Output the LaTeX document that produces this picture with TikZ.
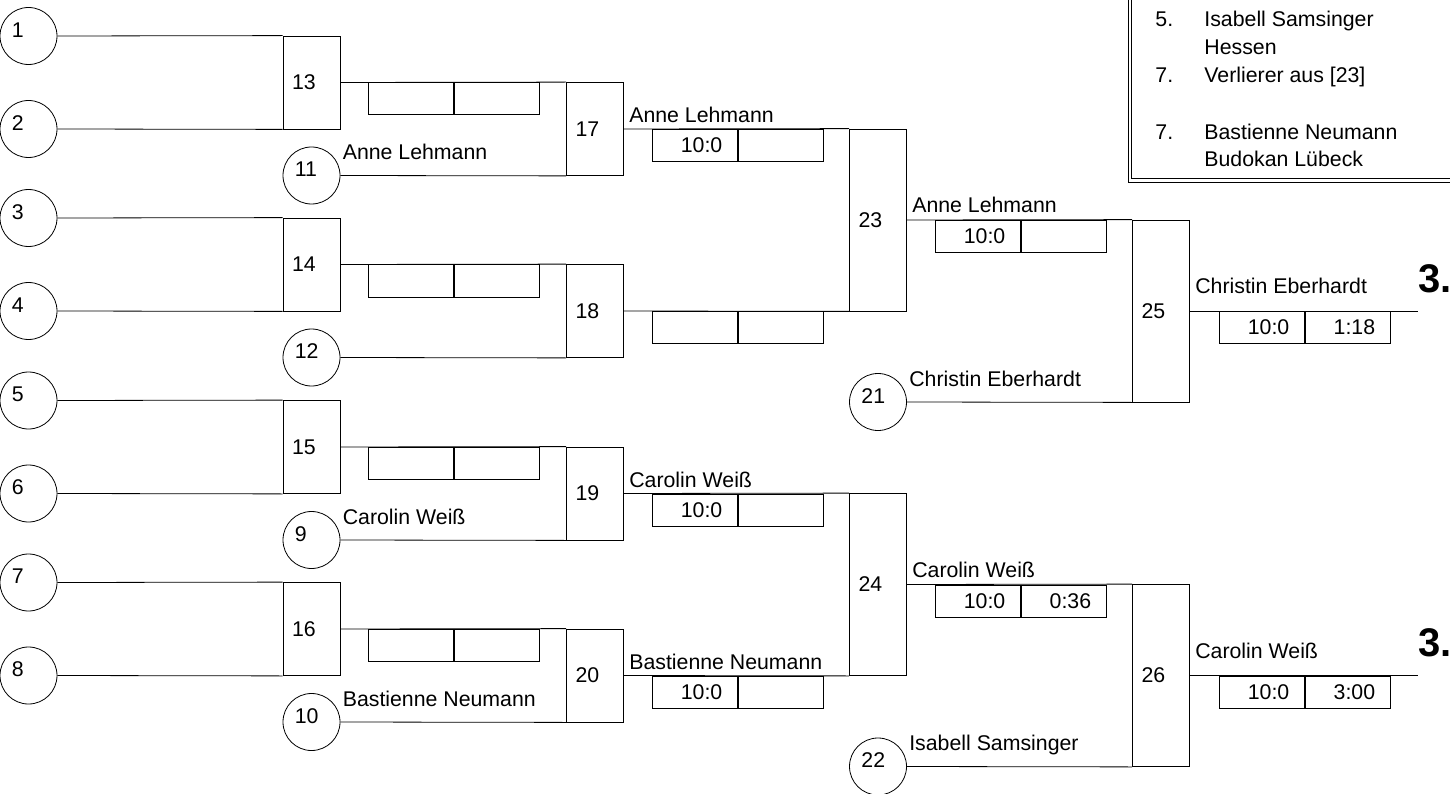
\documentclass[tikz,border=0pt]{standalone}
\usepackage{fontspec}
\setmainfont{Liberation Sans}
\usetikzlibrary{
   calc,
   positioning
}

\begin{document}
\begin{tikzpicture}[
    x=1pt, y=-1pt,
    line width=0.8pt,
    font=\fontsize{21.3}{25}\selectfont,
    seed/.style={circle, draw, minimum size=57pt, inner sep=0pt},
    seedno/.style={anchor=west, inner sep=0pt},
    match/.style={rectangle, draw, minimum width=57pt, minimum height=93pt, text width=39pt, inner xsep=9pt, inner ysep=0pt, align=left},
    tall/.style={match, minimum height=182pt},
    score/.style={rectangle, draw, minimum width=85pt, minimum height=32pt, text width=55pt, inner xsep=0pt, inner ysep=0pt, align=right},
    player/.style={anchor=base west, inner sep=0pt},
    rank/.style={anchor=base west, inner sep=0pt, font=\fontsize{40}{44}\selectfont\bfseries}
]
\useasboundingbox (0,0) rectangle (1450,794);

% first round
\node[match] (m13) at (311.5,82.5) {13};
\node[match] (m14) at (311.5,264.5) {14};
\node[match] (m15) at (311.5,447) {15};
\node[match] (m16) at (311.5,629) {16};

\node[seed] (s1) at (28.5,36) {};
\node[seed] (s2) at (28.5,129) {};
\node[seed] (s3) at (28.5,218) {};
\node[seed] (s4) at (28.5,311) {};
\node[seed] (s5) at (28.5,400.5) {};
\node[seed] (s6) at (28.5,493.5) {};
\node[seed] (s7) at (28.5,582.5) {};
\node[seed] (s8) at (28.5,675.5) {};

\draw (s1.east) -- (m13.north west);
\draw (s2.east) -- (m13.south west);
\draw (s3.east) -- (m14.north west);
\draw (s4.east) -- (m14.south west);
\draw (s5.east) -- (m15.north west);
\draw (s6.east) -- (m15.south west);
\draw (s7.east) -- (m16.north west);
\draw (s8.east) -- (m16.south west);

% second round
\node[match] (m17) at (595,129) {17};
\node[match] (m18) at (595,311) {18};
\node[match] (m19) at (595,493.5) {19};
\node[match] (m20) at (595,675.5) {20};

\node[seed] (s11) at (311.5,175.5) {};
\node[seed] (s12) at (311.5,357.5) {};
\node[seed] (s9) at (311.5,540) {};
\node[seed] (s10) at (311.5,722) {};

\draw (m13.east) -- (m17.north west);
\draw (s11.east) -- (m17.south west);
\draw (m14.east) -- (m18.north west);
\draw (s12.east) -- (m18.south west);
\draw (m15.east) -- (m19.north west);
\draw (s9.east) -- (m19.south west);
\draw (m16.east) -- (m20.north west);
\draw (s10.east) -- (m20.south west);

\node[score, below right=0pt and 28pt of m13.east] (r13a) {};
\node[score, right=0pt of r13a] (r13b) {};
\node[score, below right=0pt and 28pt of m14.east] (r14a) {};
\node[score, right=0pt of r14a] (r14b) {};
\node[score, below right=0pt and 28pt of m15.east] (r15a) {};
\node[score, right=0pt of r15a] (r15b) {};
\node[score, below right=0pt and 28pt of m16.east] (r16a) {};
\node[score, right=0pt of r16a] (r16b) {};

\node[player] (n11) at ($(s11.east)+(2,-16)$) {Anne Lehmann};
\node[player] (n9) at ($(s9.east)+(2,-16)$) {Carolin Weiß};
\node[player] (n10) at ($(s10.east)+(2,-16)$) {Bastienne Neumann};

% third round
\node[tall] (m23) at (878,220) {23};
\node[tall] (m24) at (878,584.5) {24};

\draw (m17.east) -- (m23.north west);
\draw (m18.east) -- (m23.south west);
\draw (m19.east) -- (m24.north west);
\draw (m20.east) -- (m24.south west);

\node[score, below right=0pt and 28pt of m17.east] (r17a) {10:0};
\node[score, right=0pt of r17a] (r17b) {};
\node[score, below right=0pt and 28pt of m18.east] (r18a) {};
\node[score, right=0pt of r18a] (r18b) {};
\node[score, below right=0pt and 28pt of m19.east] (r19a) {10:0};
\node[score, right=0pt of r19a] (r19b) {};
\node[score, below right=0pt and 28pt of m20.east] (r20a) {10:0};
\node[score, right=0pt of r20a] (r20b) {};

\node[player] (w17) at ($(m17.east)+(5,-6)$) {Anne Lehmann};
\node[player] (w19) at ($(m19.east)+(5,-6)$) {Carolin Weiß};
\node[player] (w20) at ($(m20.east)+(5,-6)$) {Bastienne Neumann};

% bronze matches
\node[tall] (m25) at (1161,311) {25};
\node[tall] (m26) at (1161,675.5) {26};

\node[seed] (s21) at (878,402) {};
\node[seed] (s22) at (878,766.5) {};

\draw (m23.east) -- (m25.north west);
\draw (s21.east) -- (m25.south west);
\draw (m24.east) -- (m26.north west);
\draw (s22.east) -- (m26.south west);

\node[score, below right=0pt and 28pt of m23.east] (r23a) {10:0};
\node[score, right=0pt of r23a] (r23b) {};
\node[score, below right=0pt and 28pt of m24.east] (r24a) {10:0};
\node[score, right=0pt of r24a] (r24b) {0:36};

\node[player] (w23) at ($(m23.east)+(5,-7)$) {Anne Lehmann};
\node[player] (w24) at ($(m24.east)+(5,-7)$) {Carolin Weiß};
\node[player] (n21) at ($(s21.east)+(2,-16)$) {Christin Eberhardt};
\node[player] (n22) at ($(s22.east)+(2,-16)$) {Isabell Samsinger};

\coordinate (e25) at ($(m25.east)+(228,0)$);
\coordinate (e26) at ($(m26.east)+(228,0)$);
\draw (m25.east) -- (e25);
\draw (m26.east) -- (e26);

\node[score, below right=0pt and 29pt of m25.east] (r25a) {10:0};
\node[score, right=0pt of r25a] (r25b) {1:18};
\node[score, below right=0pt and 29pt of m26.east] (r26a) {10:0};
\node[score, right=0pt of r26a] (r26b) {3:00};

\node[player] (w25) at ($(m25.east)+(5,-17)$) {Christin Eberhardt};
\node[player] (w26) at ($(m26.east)+(5,-17)$) {Carolin Weiß};
\node[rank] (p25) at ($(e25)+(0,-19)$) {3.};
\node[rank] (p26) at ($(e26)+(0,-19)$) {3.};

% seed numbers
\foreach \s in {1,...,12,21,22}
  \node[seedno] (t\s) at ($(s\s.center)+(-17,-6)$) {\s};

% ranking box
\draw (1128,-10) rectangle (1470,182);
\draw (1131,-10) rectangle (1470,178);
\node[player] (l1) at (1155,27) {5.};
\node[player] (l1a) at (1204,27) {Isabell Samsinger};
\node[player] (l1b) at (1204,55) {Hessen};
\node[player] (l2) at (1155,83) {7.};
\node[player] (l2a) at (1204,83) {Verlierer aus [23]};
\node[player] (l3) at (1155,140) {7.};
\node[player] (l3a) at (1204,140) {Bastienne Neumann};
\node[player] (l3b) at (1204,167) {Budokan Lübeck};

\end{tikzpicture}
\end{document}
